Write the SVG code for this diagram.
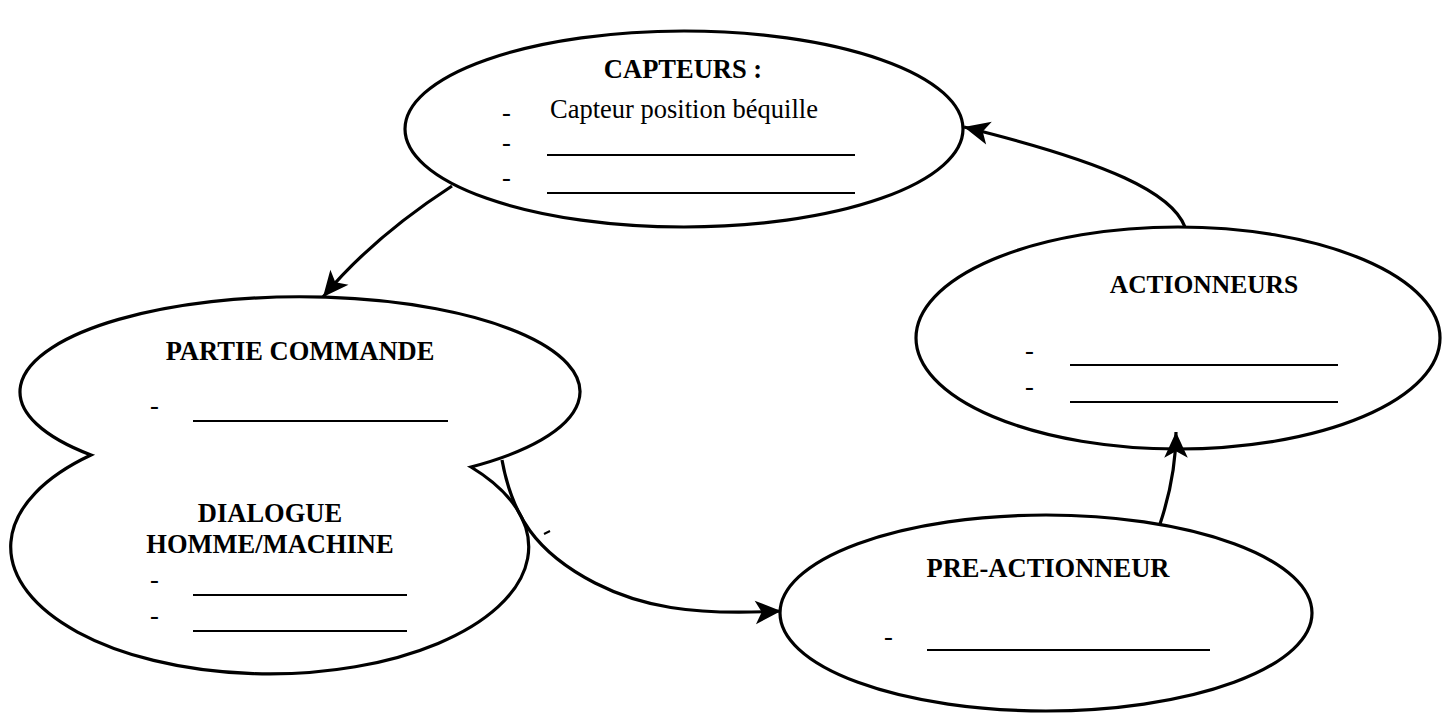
<svg xmlns="http://www.w3.org/2000/svg" width="1442" height="713" viewBox="0 0 1442 713">
<style>
.shape{fill:#fff;stroke:#000;stroke-width:3.2}
.t{font-family:"Liberation Serif","Times New Roman",serif;font-size:26.5px;fill:#000}
.b{font-weight:bold}
.ul{stroke:#000;stroke-width:2}
.con{fill:none;stroke:#000;stroke-width:3.2}
</style>
<defs>
<marker id="arr" markerUnits="userSpaceOnUse" markerWidth="30" markerHeight="26" viewBox="0 0 28 24" refX="26" refY="12" orient="auto">
<path d="M26,12 L2,1 L8,12 L2,23 Z" fill="#000"/>
</marker>
</defs>
<rect width="1442" height="713" fill="#fff"/>

<g id="capteurs">
<ellipse class="shape" cx="684" cy="129" rx="279" ry="98"/>
<text class="t b" x="683" y="78" text-anchor="middle">CAPTEURS :</text>
<text class="t" x="502" y="121">-</text>
<text class="t" x="550" y="118">Capteur position béquille</text>
<text class="t" x="502" y="151">-</text>
<line class="ul" x1="547" y1="155" x2="855" y2="155"/>
<text class="t" x="502" y="186">-</text>
<line class="ul" x1="547" y1="193" x2="855" y2="193"/>
</g>

<g id="actionneurs">
<ellipse class="shape" cx="1178" cy="338" rx="262" ry="111"/>
<text class="t b" x="1204" y="293" text-anchor="middle" style="font-size:25.5px">ACTIONNEURS</text>
<text class="t" x="1025" y="359">-</text>
<line class="ul" x1="1070" y1="365" x2="1338" y2="365"/>
<text class="t" x="1025" y="395">-</text>
<line class="ul" x1="1070" y1="402" x2="1338" y2="402"/>
</g>

<g id="pre-actionneur">
<ellipse class="shape" cx="1046" cy="613" rx="266" ry="98"/>
<text class="t b" x="1048" y="577" text-anchor="middle">PRE-ACTIONNEUR</text>
<text class="t" x="884" y="645">-</text>
<line class="ul" x1="927" y1="650" x2="1210" y2="650"/>
</g>

<g id="partie-commande">
<path class="shape" d="M91,455 A280,95 0 1 1 471,467 A259,127 0 1 1 91,455 Z"/>
<text class="t b" x="300" y="360" text-anchor="middle">PARTIE COMMANDE</text>
<text class="t" x="150" y="414">-</text>
<line class="ul" x1="193" y1="421" x2="448" y2="421"/>
</g>

<g id="dialogue-homme-machine">
<text class="t b" x="270" y="522" text-anchor="middle">DIALOGUE</text>
<text class="t b" x="270" y="553" text-anchor="middle">HOMME/MACHINE</text>
<text class="t" x="150" y="588">-</text>
<line class="ul" x1="193" y1="595" x2="407" y2="595"/>
<text class="t" x="150" y="624">-</text>
<line class="ul" x1="193" y1="631" x2="407" y2="631"/>
</g>

<g id="connectors">
<path class="con" d="M452,186 Q372,238 323,297" marker-end="url(#arr)"/>
<path class="con" d="M1185,227 C1172,193 1110,163 964,127" marker-end="url(#arr)"/>
<path class="con" d="M1160,524 C1168,500 1176,470 1176,432" marker-end="url(#arr)"/>
<path class="con" d="M502,460 C512,515 535,552 595,583 C640,606 690,616 781,611" marker-end="url(#arr)"/>
<line x1="544" y1="534" x2="550" y2="531" stroke="#000" stroke-width="2"/>
</g>
</svg>
